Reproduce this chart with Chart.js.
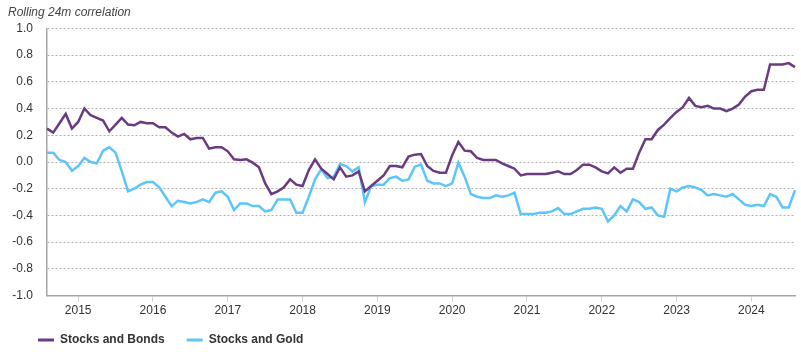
<!DOCTYPE html>
<html>
<head>
<meta charset="utf-8">
<script src="https://cdn.jsdelivr.net/npm/chart.js@4/dist/chart.umd.min.js"></script>
<style>
  html, body { margin: 0; padding: 0; background: #fff; }
  #wrap { width: 801px; height: 352px; position: relative; }
</style>
</head>
<body>
<div id="wrap"><canvas id="corrChart"></canvas></div>
<script>
// monthly points, Aug 2014 .. Aug 2024
const startYear = 2014;
const startMonth = 8;
const seriesNames = ['Stocks and Bonds', 'Stocks and Gold'];

const stocksBonds = [
  0.25, 0.22, 0.29, 0.36, 0.25,
  0.30, 0.40, 0.35, 0.33, 0.31, 0.23, 0.28, 0.33, 0.28, 0.275, 0.30, 0.29,
  0.29, 0.26, 0.26, 0.22, 0.19, 0.21, 0.17, 0.18, 0.18, 0.10, 0.11, 0.11,
  0.08, 0.02, 0.015, 0.02, -0.005, -0.04, -0.16, -0.24, -0.22, -0.19, -0.13, -0.17,
  -0.18, -0.06, 0.02, -0.05, -0.09, -0.13, -0.04, -0.11, -0.10, -0.07, -0.22, -0.18,
  -0.14, -0.10, -0.03, -0.03, -0.04, 0.04, 0.055, 0.06, -0.03, -0.067, -0.08, -0.08,
  0.05, 0.15, 0.085, 0.08, 0.03, 0.015, 0.015, 0.015, -0.01, -0.03, -0.05, -0.10,
  -0.09, -0.09, -0.09, -0.09, -0.08, -0.07, -0.09, -0.09, -0.06, -0.02, -0.02, -0.04,
  -0.07, -0.085, -0.04, -0.08, -0.05, -0.05, 0.07, 0.17, 0.17, 0.24, 0.28, 0.33,
  0.375, 0.41, 0.48, 0.42, 0.41, 0.42, 0.40, 0.40, 0.38, 0.40, 0.43, 0.49,
  0.53, 0.54, 0.54, 0.73, 0.73, 0.73, 0.74, 0.71
];

const stocksGold = [
  0.07, 0.07, 0.015, 0.0, -0.065,
  -0.03, 0.03, 0.0, -0.01, 0.085, 0.11, 0.07, -0.07, -0.22, -0.20, -0.17, -0.15,
  -0.15, -0.19, -0.26, -0.33, -0.29, -0.30, -0.31, -0.30, -0.28, -0.30, -0.23, -0.22,
  -0.26, -0.36, -0.31, -0.31, -0.33, -0.33, -0.37, -0.36, -0.28, -0.28, -0.28, -0.38,
  -0.38, -0.26, -0.13, -0.055, -0.12, -0.11, -0.015, -0.03, -0.07, -0.04, -0.30, -0.18,
  -0.17, -0.17, -0.12, -0.11, -0.14, -0.13, -0.035, -0.02, -0.14, -0.16, -0.16, -0.18,
  -0.16, -0.005, -0.11, -0.24, -0.26, -0.27, -0.27, -0.25, -0.26, -0.25, -0.23, -0.39,
  -0.39, -0.39, -0.38, -0.38, -0.37, -0.345, -0.39, -0.39, -0.37, -0.35, -0.35, -0.34,
  -0.35, -0.445, -0.40, -0.33, -0.37, -0.28, -0.30, -0.35, -0.34, -0.40, -0.41, -0.20,
  -0.22, -0.19, -0.18, -0.19, -0.21, -0.25, -0.24, -0.25, -0.26, -0.24, -0.28, -0.32,
  -0.33, -0.32, -0.33, -0.24, -0.26, -0.34, -0.34, -0.21
];

const yTicks = [-1.0, -0.8, -0.6, -0.4, -0.2, 0.0, 0.2, 0.4, 0.6, 0.8, 1.0];

// category labels "YYYY-MM"
const months = [];
for (let i = 0; i < stocksBonds.length; i++) {
  const m = startMonth - 1 + i;
  const y = startYear + Math.floor(m / 12);
  const mm = (m % 12) + 1;
  months.push(y + '-' + String(mm).padStart(2, '0'));
}
const isJan = (idx) => months[idx] && months[idx].endsWith('-01');

Chart.defaults.font.family = "'Liberation Sans', Arial, sans-serif";
Chart.defaults.font.size = 12;
Chart.defaults.color = '#333';

// nudge the legend to where the original sits
const legendShift = {
  id: 'legendShift',
  afterLayout(chart) {
    const lg = chart.legend;
    if (!lg) return;
    lg.left += 8;
    lg.right += 8;
    lg.top -= 8;
    lg.bottom -= 8;
  }
};

const ctx = document.getElementById('corrChart').getContext('2d');
new Chart(ctx, {
  type: 'line',
  data: {
    labels: months,
    datasets: [
      {
        label: seriesNames[0],
        data: stocksBonds,
        borderColor: '#6b3b82',
        backgroundColor: '#6b3b82',
        borderWidth: 2.5,
        pointRadius: 0,
        tension: 0
      },
      {
        label: seriesNames[1],
        data: stocksGold,
        borderColor: '#5cc5fb',
        backgroundColor: '#5cc5fb',
        borderWidth: 2.5,
        pointRadius: 0,
        tension: 0
      }
    ]
  },
  options: {
    responsive: true,
    maintainAspectRatio: false,
    animation: false,
    layout: { padding: { left: 8, right: 6, top: 0, bottom: 0 } },
    plugins: {
      title: {
        display: true,
        text: 'Rolling 24m correlation',
        align: 'start',
        color: '#444',
        font: { style: 'italic', size: 12, weight: 'normal' },
        padding: { top: 5, bottom: 9 }
      },
      legend: {
        position: 'bottom',
        align: 'start',
        maxHeight: 32,
        labels: {
          boxWidth: 16,
          boxHeight: 3,
          padding: 22,
          color: '#333',
          font: { weight: 'bold', size: 12 },
          generateLabels(chart) {
            const items = Chart.defaults.plugins.legend.labels.generateLabels(chart);
            items.forEach(it => { it.lineWidth = 0; it.fillStyle = it.strokeStyle; });
            return items;
          }
        }
      },
      tooltip: { enabled: false }
    },
    scales: {
      x: {
        offset: false,
        grid: {
          drawOnChartArea: false,
          drawTicks: true,
          tickLength: 6,
          tickColor: (c) => isJan(c.index) ? '#c4d3e3' : 'rgba(0,0,0,0)',
          color: 'rgba(0,0,0,0)'
        },
        border: { display: true, color: '#a6a6a6', width: 1.5 },
        ticks: {
          autoSkip: false,
          maxRotation: 0,
          padding: 2,
          color: '#333',
          callback: (v, idx) => isJan(idx) ? months[idx].slice(0, 4) : ''
        }
      },
      y: {
        min: yTicks[0],
        max: yTicks[yTicks.length - 1],
        afterFit(scale) { scale.width = 39; },
        afterBuildTicks(scale) { scale.ticks = yTicks.map(v => ({ value: v })); },
        grid: {
          color: (c) => c.index === 0 ? 'rgba(0,0,0,0)' : '#b0b0b0',
          lineWidth: 1,
          drawTicks: false
        },
        border: { display: true, color: '#a6a6a6', width: 1.5, dash: [2, 2] },
        ticks: {
          padding: 14,
          color: '#333',
          callback: (v) => (Math.abs(v) < 1e-9 ? 0 : v).toFixed(1)
        }
      }
    }
  },
  plugins: [legendShift]
});
</script>
</body>
</html>
